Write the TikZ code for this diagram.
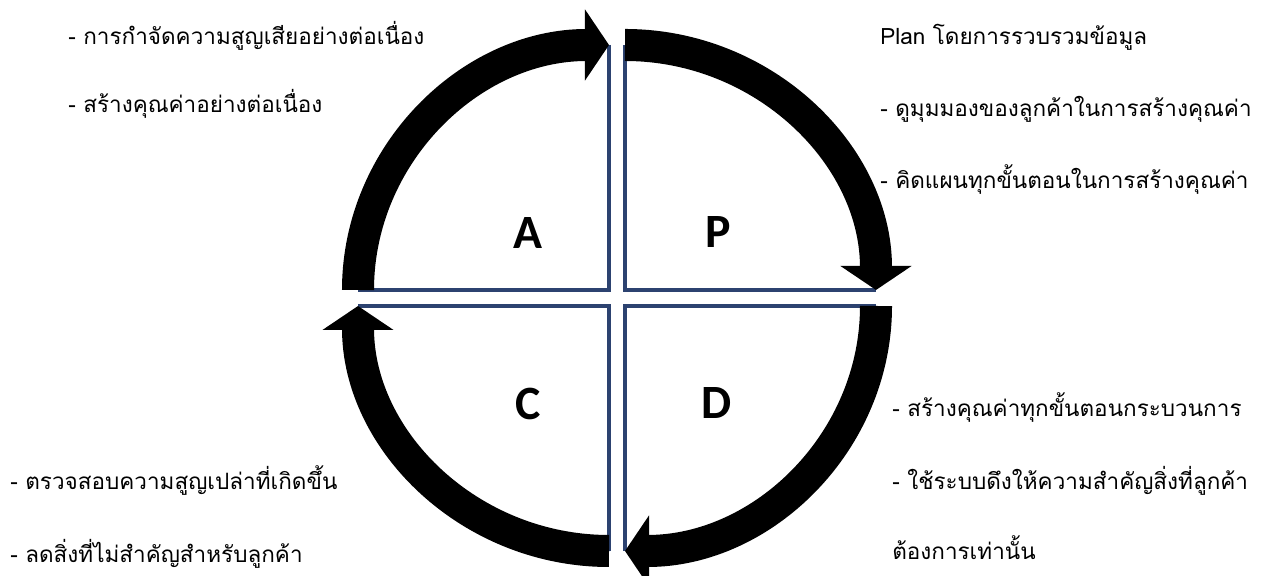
\documentclass[tikz,border=0pt]{standalone}
\usepackage{fontspec}
\newfontfamily\thaifont[Script=Thai]{Loma}
\newfontfamily\letterfont{Carlito}
\usepackage{tikz}
\usetikzlibrary{arrows.meta,calc}
\definecolor{quadblue}{RGB}{44,66,112}
\tikzset{
  note/.style={font=\thaifont\fontsize{16}{19}\selectfont, anchor=base west, inner sep=0pt},
  quadletter/.style={font=\letterfont\bfseries\fontsize{34}{34}\selectfont},
  cyclearc/.style={line width=0.8cm, black, -{Triangle[width=1.75cm, length=0.6cm]}},
  quadline/.style={quadblue, line width=0.085cm},
}

\begin{document}
\begin{tikzpicture}[x=0.025cm, y=0.025cm]
  \useasboundingbox (0,0) rectangle (1265,576);
  \fill[white] (0,0) rectangle (1265,576);

  % Quadrant corners
  \coordinate (cA) at (609,286);
  \coordinate (cP) at (625,286);
  \coordinate (cD) at (625,270);
  \coordinate (cC) at (609,270);

  % Arc ends (radii 251 x 245)
  \coordinate (aL) at ($(cA)+(-251,0)$);
  \coordinate (aT) at ($(cA)+(0,245)$);
  \coordinate (pT) at ($(cP)+(0,245)$);
  \coordinate (pR) at ($(cP)+(251,0)$);
  \coordinate (dR) at ($(cD)+(251,0)$);
  \coordinate (dB) at ($(cD)+(0,-245)$);
  \coordinate (cB) at ($(cC)+(0,-245)$);
  \coordinate (cL) at ($(cC)+(-251,0)$);

  % Quadrant borders
  \draw[quadline] (aT) -- (cA) -- (aL);
  \draw[quadline] (pT) -- (cP) -- (pR);
  \draw[quadline] (dR) -- (cD) -- (dB);
  \draw[quadline] (cB) -- (cC) -- (cL);

  % Cycle arrows
  \draw[cyclearc] (aL) arc[start angle=180, end angle=90, x radius=251, y radius=245];
  \draw[cyclearc] (pT) arc[start angle=90, end angle=0, x radius=251, y radius=245];
  \draw[cyclearc] (dR) arc[start angle=0, end angle=-90, x radius=251, y radius=245];
  \draw[cyclearc] (cB) arc[start angle=-90, end angle=-180, x radius=251, y radius=245];

  % Letters
  \node[quadletter] (lblA) at (528,343) {A};
  \node[quadletter] (lblP) at (718,344) {P};
  \node[quadletter] (lblC) at (528,172) {C};
  \node[quadletter] (lblD) at (717,173) {D};

  % Act
  \node[note] (noteA1) at (68,531) {- การกำจัดความสูญเสียอย่างต่อเนื่อง};
  \node[note] (noteA2) at (68,463) {- สร้างคุณค่าอย่างต่อเนื่อง};

  % Plan
  \node[note] (noteP1) at (880,531) {Plan โดยการรวบรวมข้อมูล};
  \node[note] (noteP2) at (880,459) {- ดูมุมมองของลูกค้าในการสร้างคุณค่า};
  \node[note] (noteP3) at (880,387) {- คิดแผนทุกขั้นตอนในการสร้างคุณค่า};

  % Do
  \node[note] (noteD1) at (892,159) {- สร้างคุณค่าทุกขั้นตอนกระบวนการ};
  \node[note] (noteD2) at (892,86) {- ใช้ระบบดึงให้ความสำคัญสิ่งที่ลูกค้า};
  \node[note] (noteD3) at (892,16) {ต้องการเท่านั้น};

  % Check
  \node[note] (noteC1) at (10,86) {- ตรวจสอบความสูญเปล่าที่เกิดขึ้น};
  \node[note] (noteC2) at (10,13) {- ลดสิ่งที่ไม่สำคัญสำหรับลูกค้า};
\end{tikzpicture}
\end{document}
